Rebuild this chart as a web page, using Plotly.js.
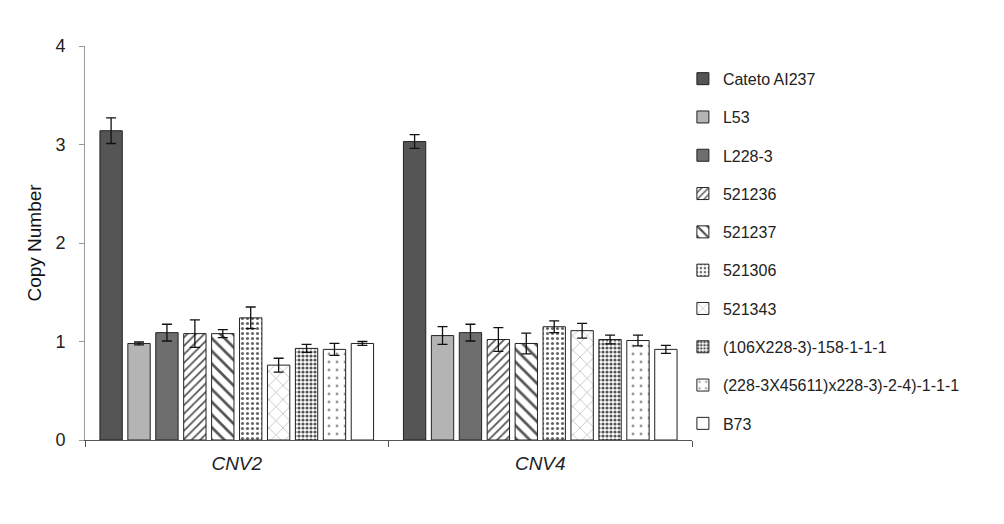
<!DOCTYPE html>
<html>
<head>
<meta charset="utf-8">
<script src="https://cdn.plot.ly/plotly-3.0.1.min.js"></script>
<style>html,body{margin:0;padding:0;background:#fff;}#chart{width:1004px;height:524px;}</style>
</head>
<body>
<div id="chart"></div>
<script>
var categories = ["CNV2", "CNV4"];
var seriesNames = ["Cateto AI237", "L53", "L228-3", "521236", "521237", "521306", "521343",
  "(106X228-3)-158-1-1-1", "(228-3X45611)x228-3)-2-4)-1-1-1", "B73"];
var cnv2Values = [3.14, 0.98, 1.09, 1.08, 1.08, 1.24, 0.76, 0.93, 0.92, 0.98];
var cnv4Values = [3.03, 1.06, 1.09, 1.02, 0.98, 1.15, 1.11, 1.02, 1.01, 0.92];
var cnv2Errors = [0.13, 0.015, 0.085, 0.14, 0.04, 0.11, 0.07, 0.04, 0.06, 0.02];
var cnv4Errors = [0.07, 0.09, 0.085, 0.12, 0.105, 0.06, 0.075, 0.045, 0.055, 0.04];
var yTickValues = [0, 1, 2, 3, 4];

var styles = [
  {color: "#555555"},
  {color: "#b4b4b4"},
  {color: "#6e6e6e"},
  {color: "#ffffff", pattern: {shape: "/", fgcolor: "#555555", bgcolor: "#ffffff", size: 6, solidity: 0.3}},
  {color: "#ffffff", pattern: {shape: "\\", fgcolor: "#555555", bgcolor: "#ffffff", size: 9, solidity: 0.3}},
  {color: "#ffffff", pattern: {shape: ".", fgcolor: "#666666", bgcolor: "#ffffff", size: 5, solidity: 0.3}},
  {color: "#ffffff", pattern: {shape: "x", fgcolor: "#aaaaaa", bgcolor: "#ffffff", size: 10, solidity: 0.12}},
  {color: "#ffffff", pattern: {shape: ".", fgcolor: "#555555", bgcolor: "#ffffff", size: 4, solidity: 0.5}},
  {color: "#ffffff", pattern: {shape: ".", fgcolor: "#9a9a9a", bgcolor: "#ffffff", size: 8, solidity: 0.1}},
  {color: "#ffffff"}
];

var traces = seriesNames.map(function (name, i) {
  var marker = {color: styles[i].color, line: {color: "#222222", width: 1}};
  if (styles[i].pattern) marker.pattern = styles[i].pattern;
  return {
    type: "bar",
    name: name,
    x: categories,
    y: [cnv2Values[i], cnv4Values[i]],
    legendgroup: "g" + i,
    marker: marker,
    error_y: {type: "data", array: [cnv2Errors[i], cnv4Errors[i]], visible: true,
      color: "#111111", thickness: 1.3, width: 5}
  };
});

var layout = {
  width: 1004, height: 524,
  paper_bgcolor: "#ffffff", plot_bgcolor: "#ffffff",
  font: {family: "Liberation Sans, Arial, sans-serif", color: "#222222"},
  margin: {l: 85, r: 312, t: 46, b: 84},
  barmode: "group",
  bargap: 0.08,
  bargroupgap: 0.2,
  showlegend: true,
  legend: {x: 0.985, xanchor: "left", y: 0.96, yanchor: "top",
    font: {size: 16, color: "#222222"}, tracegroupgap: 14.5, itemwidth: 30,
    bgcolor: "rgba(0,0,0,0)"},
  xaxis: {
    type: "category",
    showline: true, linecolor: "#555555", linewidth: 1,
    ticks: "outside", tickson: "boundaries", ticklen: 6, tickcolor: "#555555",
    ticklabelstandoff: 6,
    tickfont: {size: 19, style: "italic", color: "#222222"},
    showgrid: false, zeroline: false, fixedrange: true
  },
  yaxis: {
    range: [0, 4], tickvals: yTickValues, ticktext: yTickValues.map(String),
    showline: true, linecolor: "#999999", linewidth: 1,
    ticks: "outside", ticklen: 5, tickcolor: "#999999",
    ticklabelstandoff: 10,
    tickfont: {size: 18, color: "#222222"},
    showgrid: false, zeroline: false,
    title: {text: "Copy Number", font: {size: 19, color: "#111111"}, standoff: 8}
  }
};

Plotly.newPlot("chart", traces, layout, {displayModeBar: false, staticPlot: true});
</script>
</body>
</html>
